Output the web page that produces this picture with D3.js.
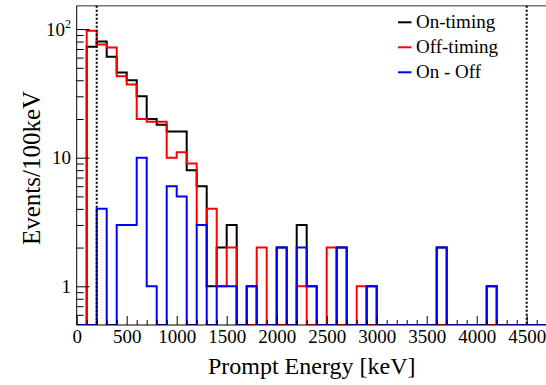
<!DOCTYPE html>
<html><head><meta charset="utf-8">
<script src="https://cdn.jsdelivr.net/npm/d3@7"></script>
<style>html,body{margin:0;padding:0;background:#fff;} svg{display:block;}
svg text{font-family:"Liberation Serif","Times New Roman",Times,"DejaVu Serif",serif;}</style>
</head><body>
<svg id="c" width="546" height="385"></svg>
<script>
// ---- data (bin lower edges in keV, 100 keV bins) ----
const binWidth = 100;
const binLow = d3.range(0, 4700, binWidth);
const onTiming  = [0,73,80,61,46,40,30,20,18,16,16,8,6,1,2,3,0,1,0,0,2,0,3,1,0,0,2,0,0,1,0,0,0,0,0,0,2,0,0,0,0,1,0,0,0,0,0];
const offTiming = [0,97,76,72,43,37,20,19,19,10,11,9,3,4,1,2,0,0,2,0,0,0,1,0,0,2,0,0,1,0,0,0,0,0,0,0,0,0,0,0,0,0,0,0,0,0,0];
const onMinusOff= [0,-24,4,-11,3,3,10,1,-1,6,5,-1,3,-3,1,1,0,1,-2,0,2,0,2,1,0,-2,2,0,-1,1,0,0,0,0,0,0,2,0,0,0,0,1,0,0,0,0,0];
const seriesNames = ["On-timing","Off-timing","On - Off"];
const seriesColors = ["#000000","#ff0000","#0000ff"];
const xMajorTicks = [0,500,1000,1500,2000,2500,3000,3500,4000,4500];
const yMajorTicks = [1,10,100];
const yTickLabels = [["1",""],["10",""],["10","2"]];
const cutLines = [200,4500];
const xTitle = "Prompt Energy [keV]";
const yTitle = "Events/100keV";

// ---- layout ----
const L = 76.7, R = 546.7, T = 5.7, B = 325;
const svg = d3.select("#c");
const x = d3.scaleLinear().domain([0, 4700]).range([L, R]);
const yMin = 0.5, yMax = 152;
const y = d3.scaleLog().domain([yMin, yMax]).range([B, T]);

svg.append("defs").append("clipPath").attr("id","clip")
  .append("rect").attr("x",L).attr("y",T).attr("width",R-L).attr("height",B-T);

// frame top
svg.append("line").attr("x1",L).attr("x2",R).attr("y1",T).attr("y2",T)
  .attr("stroke","#777").attr("stroke-width",1.5);

// histograms
const line = d3.line().curve(d3.curveStepAfter).x(d=>x(d[0])).y(d=>y(d[1]));
[onTiming, offTiming, onMinusOff].forEach((vals, si) => {
  const pts = vals.map((v,i)=>[binLow[i], Math.max(v, yMin)]);
  pts.push([binLow[binLow.length-1]+binWidth, Math.max(vals[vals.length-1], yMin)]);
  svg.append("path").attr("d", line(pts)).attr("fill","none")
    .attr("stroke", seriesColors[si]).attr("stroke-width",2)
    .attr("clip-path","url(#clip)");
});

// dotted cut lines
cutLines.forEach(c=>{
  svg.append("line").attr("x1",x(c)).attr("x2",x(c)).attr("y1",T).attr("y2",B)
    .attr("stroke","#000").attr("stroke-width",2).attr("stroke-dasharray","2,2");
});

// x axis
const xMinor = d3.range(0, 4700, 100).filter(v=>v%500!==0);
const gx = svg.append("g").attr("transform",`translate(0,${B})`)
  .call(d3.axisBottom(x).tickValues(xMinor).tickSize(-5).tickFormat(""));
const gx2 = svg.append("g").attr("transform",`translate(0,${B})`)
  .call(d3.axisBottom(x).tickValues(xMajorTicks).tickSize(-9).tickFormat(d3.format("d")));
[gx, gx2].forEach(g=>{
  g.attr("font-family",null).attr("font-size",null);
  g.select(".domain").remove();
  g.selectAll(".tick line").attr("stroke","#000").attr("stroke-width",1);
});
gx2.selectAll(".tick text").attr("font-size",19).attr("fill","#000").attr("dy",0).attr("y",18.3);
svg.append("line").attr("x1",L).attr("x2",R).attr("y1",B).attr("y2",B).attr("stroke","#000").attr("stroke-width",1);

// y axis
const yMinor = [0.6,0.7,0.8,0.9,2,3,4,5,6,7,8,9,20,30,40,50,60,70,80,90];
const gy = svg.append("g").attr("transform",`translate(${L},0)`)
  .call(d3.axisLeft(y).tickValues(yMinor).tickSize(-7).tickFormat(""));
const gy2 = svg.append("g").attr("transform",`translate(${L},0)`)
  .call(d3.axisLeft(y).tickValues(yMajorTicks).tickSize(-13).tickFormat(""));
[gy, gy2].forEach(g=>{
  g.select(".domain").remove();
  g.selectAll(".tick line").attr("stroke","#000").attr("stroke-width",1);
});
svg.append("line").attr("x1",L).attr("x2",L).attr("y1",T).attr("y2",B).attr("stroke","#000").attr("stroke-width",1);
yMajorTicks.forEach((v,i)=>{
  const t = svg.append("text").attr("x",71).attr("y",y(v)+6.5).attr("text-anchor","end")
    .attr("font-size",19).attr("fill","#000");
  t.append("tspan").text(yTickLabels[i][0]);
  if (yTickLabels[i][1]) t.append("tspan").attr("font-size",12).attr("dy",-8).text(yTickLabels[i][1]);
});

// titles
svg.append("text").attr("x",(L+R)/2).attr("y",374).attr("text-anchor","middle")
  .attr("font-size",24).attr("fill","#000").text(xTitle);
svg.append("text").attr("transform",`translate(39.5,168) rotate(-90)`).attr("text-anchor","middle")
  .attr("font-size",25).attr("fill","#000").text(yTitle);

// legend
seriesNames.forEach((n,i)=>{
  const by = 28.3 + 25*i;
  svg.append("line").attr("x1",398).attr("x2",411.5).attr("y1",by-6).attr("y2",by-6)
    .attr("stroke",seriesColors[i]).attr("stroke-width",2);
  svg.append("text").attr("x",416).attr("y",by).attr("font-size",19)
    .attr("fill","#000").text(n);
});
</script>
</body></html>
